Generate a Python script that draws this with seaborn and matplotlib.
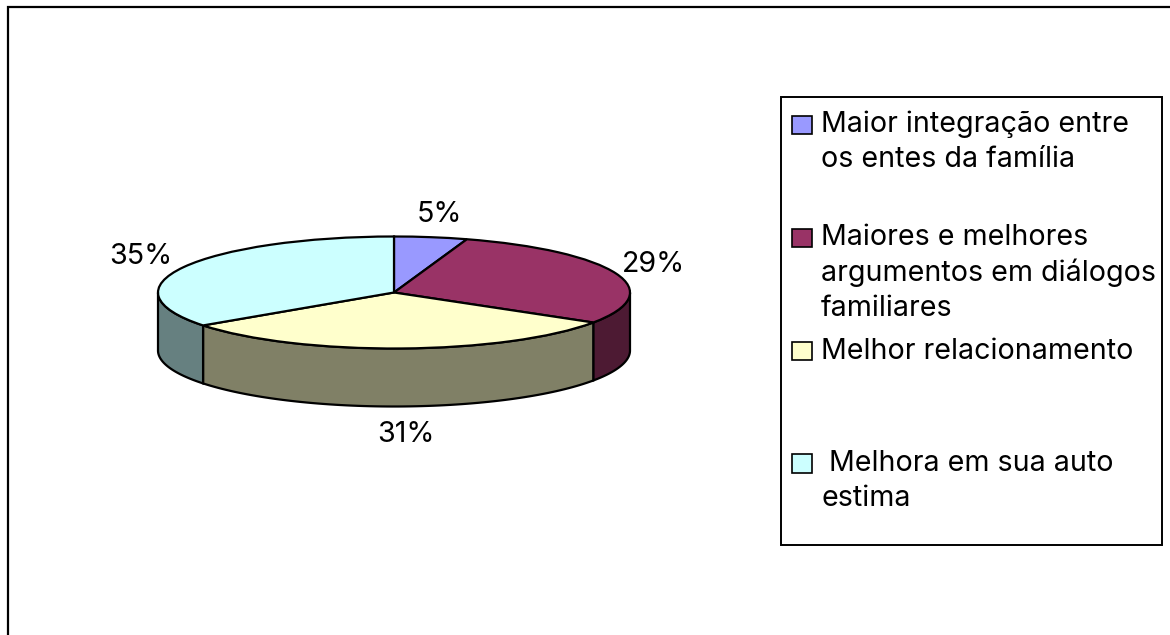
import numpy as np
import matplotlib
matplotlib.use("Agg")
import matplotlib.pyplot as plt
from matplotlib.patches import Rectangle
import seaborn as sns

categories = ["Maior integração entre\nos entes da família\n ",
              "Maiores e melhores\nargumentos em diálogos\nfamiliares",
              "Melhor relacionamento\n \n ",
              " Melhora em sua auto\nestima\n "]
values = [5, 29, 31, 35]
top_colors = ["#9999FF", "#993366", "#FFFFCC", "#CCFFFF"]
side_colors = ["#4D4D80", "#4D1A33", "#808066", "#668080"]
pct_positions = [(439, 215), (654, 265), (406, 435), (141, 256)]

sns.set_theme(style="white")
plt.rcParams["font.family"] = ["Inter", "Liberation Sans", "DejaVu Sans"]

W, H = 1170, 635
FS = 20.6
fig = plt.figure(figsize=(W / 100, H / 100), dpi=100, facecolor="white")

# overlay in pixel coordinates
ov = fig.add_axes([0, 0, 1, 1], zorder=3)
ov.set_xlim(0, W); ov.set_ylim(H, 0); ov.axis("off"); ov.patch.set_alpha(0)

# pie axes: one data unit is rx pixels across and ry pixels down
cx, cy, rx, ry, depth = 394, 292.5, 236, 56, 58
xm, ym = 1.1, 2.3
ax = fig.add_axes([(cx - xm * rx) / W, 1 - (cy + ym * ry) / H,
                   2 * xm * rx / W, 2 * ym * ry / H], zorder=2)
wedges, _ = ax.pie(values, colors=top_colors, startangle=90, counterclock=False,
                   wedgeprops=dict(edgecolor="black", linewidth=1.6), radius=1)
ax.set_aspect("auto")
ax.set_xlim(-xm, xm); ax.set_ylim(-ym, ym); ax.axis("off")

# extruded side walls
d = depth / ry
edges = 90 - 360 * np.cumsum([0] + values) / sum(values)
for i, col in enumerate(side_colors):
    hi, lo = edges[i], edges[i + 1]
    lo_c, hi_c = max(lo, -180), min(hi, 0)
    if lo_c >= hi_c:
        continue
    t = np.radians(np.linspace(hi_c, lo_c, 80))
    xs, ys = np.cos(t), np.sin(t)
    ax.fill(np.r_[xs, xs[::-1]], np.r_[ys, ys[::-1] - d], facecolor=col,
            edgecolor="black", linewidth=1.6, zorder=0.5)

# percentage labels
for v, (px, py) in zip(values, pct_positions):
    ov.text(px, py, f"{v}%", ha="center", va="center", fontsize=FS, color="black")

# outer frame and legend box
ov.plot([8, 8, W], [H, 7, 7], color="black", lw=1.6, solid_joinstyle="miter")
ov.add_patch(Rectangle((781, 97), 381, 448, fill=False, edgecolor="black", lw=1.4))

handles = [Rectangle((0, 0), 1, 1, facecolor=c, edgecolor="black", linewidth=1.2) for c in top_colors]
leg = ov.legend(handles, categories, loc="upper left", bbox_to_anchor=(792, 111),
                bbox_transform=ov.transData, frameon=False, fontsize=FS,
                borderpad=0, borderaxespad=0, labelspacing=0.56,
                handlelength=0.70, handleheight=0.60, handletextpad=0.315,
                labelcolor="black")
for t in leg.get_texts():
    t.set_linespacing(1.36)
fig.canvas.draw()
for h in leg.legend_handles:
    h.set_y(h.get_y() + 25.2)

fig.savefig("out.png", dpi=100, facecolor="white")
